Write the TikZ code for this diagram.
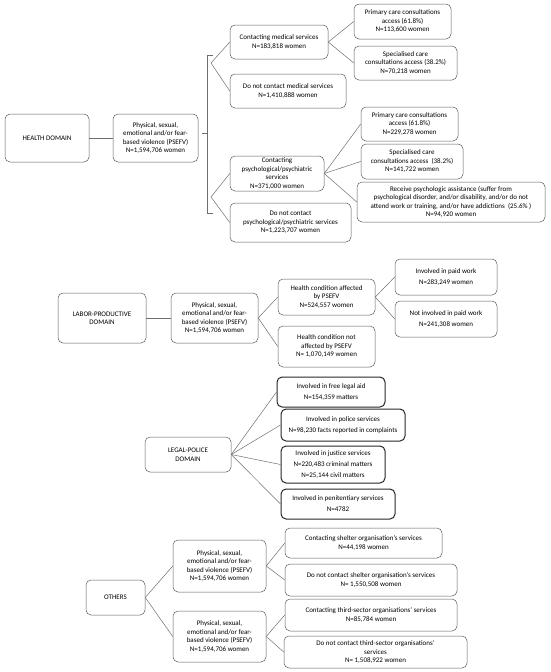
\documentclass[tikz,border=0pt]{standalone}
\usepackage{fontspec}
\setmainfont{Carlito}
\usepackage{tikz}
\usetikzlibrary{calc,shapes}

\definecolor{boxgray}{RGB}{90,90,90}
\definecolor{linegray}{RGB}{110,110,110}

\tikzset{
  box/.style={draw=boxgray, line width=0.5pt, rounded corners=5pt, align=center,
    inner sep=1pt, font=\fontsize{7}{8.5}\selectfont},
  legalbox/.style={box, draw=black!85, line width=1pt, font=\fontsize{7}{11}\selectfont},
  link/.style={draw=linegray, line width=0.5pt}
}

\begin{document}
\begin{tikzpicture}[x=1pt, y=-1pt, every edge/.style={link}]
  \useasboundingbox (0,0) rectangle (550,672);

  % health domain
  \node [box, minimum width=84, minimum height=48] (hd) at (47,138) {HEALTH DOMAIN};
  \node [box, minimum width=85, minimum height=48] (hv) at (155.5,138)
    {Physical, sexual,\\emotional and/or fear-\\based violence (PSEFV)\\N=1,594,706 women};
  \path (hd) edge (hv);
  \coordinate (bm) at (202,133);
  \coordinate (bt) at (207.5,55);
  \coordinate (bb) at (207.5,213);
  \coordinate (ft) at (211,63);
  \coordinate (fb) at (211,197);
  \draw [link] (bm) -- (bm -| bt);
  \draw [link] ($(bt)+(5,0)$) -- (bt) -- (bb) -- ($(bb)+(5,0)$);
  \node [box, minimum width=98, minimum height=34] (cm) at (279,42)
    {Contacting medical services\\N=183,818 women};
  \path (ft) edge (cm.west);
  \node [box, minimum width=116, minimum height=34] (nm) at (288,91)
    {Do not contact medical services\\N=1,410,888 women};
  \path (ft) edge (nm.west);
  \node [box, minimum width=94, minimum height=35] (cp) at (277,173.5)
    {Contacting\\psychological/psychiatric\\services\\N=371,000 women};
  \path (fb) edge (cp.west);
  \node [box, minimum width=121, minimum height=39] (np) at (290.5,222.5)
    {Do not contact\\psychological/psychiatric services\\N=1,223,707 women};
  \path (fb) edge (np.west);
  \node [box, minimum width=97, minimum height=35] (p1) at (402.5,21.5)
    {Primary care consultations\\access (61.8\%)\\N=113,600 women};
  \path (cm.east) edge (p1.west);
  \node [box, minimum width=103, minimum height=34] (s1) at (405.5,63)
    {Specialised care\\consultations access (38.2\%)\\N=70,218 women};
  \path (cm.east) edge (s1.west);
  \node [box, minimum width=97, minimum height=34] (p2) at (409.5,124)
    {Primary care consultations\\access (61.8\%)\\N=229,278 women};
  \path (cp.east) edge (p2.west);
  \node [box, minimum width=102, minimum height=35] (s2) at (412,161.5)
    {Specialised care\\consultations access~~(38.2\%)\\N=141,722 women};
  \path (cp.east) edge (s2.west);
  \node [box, minimum width=188, minimum height=40] (rp) at (451,202)
    {Receive psychologic assistance (suffer from\\psychological disorder, and/or disability, and/or do not\\attend work or training, and/or have addictions~~(25.6\% )\\N=94,920 women};
  \path (cp.east) edge (rp.west);

  % labor-productive domain
  \node [box, minimum width=88, minimum height=50] (ld) at (102,318) {LABOR-PRODUCTIVE\\DOMAIN};
  \node [box, minimum width=87, minimum height=50] (lv) at (214.5,318)
    {Physical, sexual,\\emotional and/or fear-\\based violence (PSEFV)\\N=1,594,706 women};
  \path (ld) edge (lv);
  \node [box, minimum width=97, minimum height=36] (ha) at (326.5,297)
    {Health condition affected\\by PSEFV\\N=524,557 women};
  \path (lv.east) edge (ha.west);
  \node [box, minimum width=97, minimum height=41] (hn) at (326.5,346.5)
    {Health condition not\\affected by PSEFV\\N= 1,070,149 women};
  \path (lv.east) edge (hn.west);
  \node [box, minimum width=102, minimum height=36, font=\fontsize{7}{11}\selectfont] (pw) at (446,277)
    {Involved in paid work\\N=283,249 women};
  \path (ha.east) edge (pw.west);
  \node [box, minimum width=102, minimum height=36, font=\fontsize{7}{11}\selectfont] (nw) at (446,319)
    {Not involved in paid work\\N=241,308 women};
  \path (ha.east) edge (nw.west);

  % legal-police domain
  \node [box, minimum width=86, minimum height=35] (gd) at (188,454.5) {LEGAL-POLICE\\DOMAIN};
  \node [legalbox, minimum width=108, minimum height=30] (la) at (331,392)
    {Involved in free legal aid\\N=154,359 matters};
  \path (gd.east) edge (la.west);
  \node [legalbox, minimum width=124, minimum height=32] (ps) at (343,425)
    {Involved in police services\\N=98,230 facts reported in complaints};
  \path (gd.east) edge (ps.west);
  \node [legalbox, minimum width=104, minimum height=37] (js) at (333,464.5)
    {Involved in justice services\\N=220,483 criminal matters\\N=25,144 civil matters};
  \path (gd.east) edge (js.west);
  \node [legalbox, minimum width=114, minimum height=30] (pn) at (338,504)
    {Involved in penitentiary services\\N=4782};
  \path (gd.east) edge (pn.west);

  % others
  \node [box, minimum width=59, minimum height=35] (od) at (115.5,597.5) {OTHERS};
  \node [box, minimum width=93, minimum height=52] (ov1) at (219.5,566)
    {Physical, sexual,\\emotional and/or fear-\\based violence (PSEFV)\\N=1,594,706 women};
  \path (od.east) edge (ov1.west);
  \node [box, minimum width=93, minimum height=51] (ov2) at (219.5,636.5)
    {Physical, sexual,\\emotional and/or fear-\\based violence (PSEFV)\\N=1,594,706 women};
  \path (od.east) edge (ov2.west);
  \node [box, minimum width=157, minimum height=30, font=\fontsize{7}{9.5}\selectfont] (sh) at (363.5,543)
    {Contacting shelter organisation's services\\N=44,198 women};
  \path (ov1.east) edge (sh.west);
  \node [box, minimum width=172, minimum height=32, font=\fontsize{7}{9.5}\selectfont] (ns) at (371,580)
    {Do not contact shelter organisation's services\\N= 1,550,508 women};
  \path (ov1.east) edge (ns.west);
  \node [box, minimum width=172, minimum height=32, font=\fontsize{7}{9.5}\selectfont] (ts) at (371,615)
    {Contacting third-sector organisations' services\\N=85,784 women};
  \path (ov2.east) edge (ts.west);
  \node [box, minimum width=183, minimum height=32] (nt) at (375.5,652)
    {Do not contact third-sector organisations'\\services\\N= 1,508,922 women};
  \path (ov2.east) edge (nt.west);
\end{tikzpicture}
\end{document}
